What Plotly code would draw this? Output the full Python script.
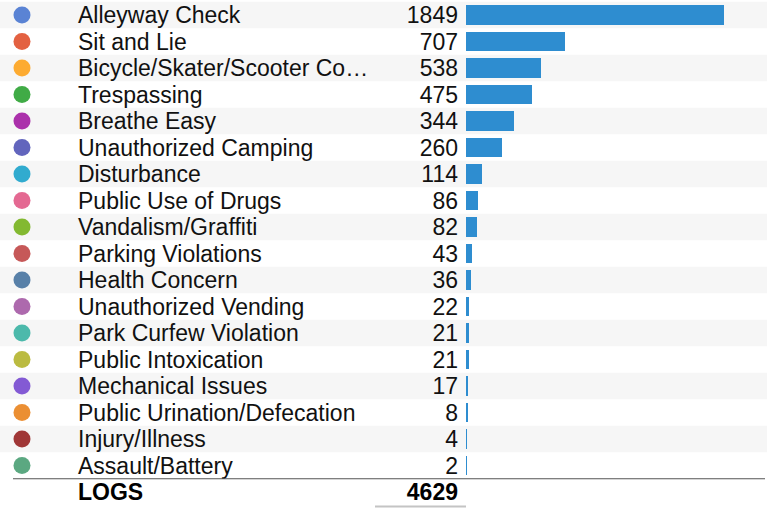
import plotly.graph_objects as go

categories = [
    "Alleyway Check", "Sit and Lie", "Bicycle/Skater/Scooter Co\u2026", "Trespassing",
    "Breathe Easy", "Unauthorized Camping", "Disturbance", "Public Use of Drugs",
    "Vandalism/Graffiti", "Parking Violations", "Health Concern", "Unauthorized Vending",
    "Park Curfew Violation", "Public Intoxication", "Mechanical Issues",
    "Public Urination/Defecation", "Injury/Illness", "Assault/Battery",
]
counts = [1849, 707, 538, 475, 344, 260, 114, 86, 82, 43, 36, 22, 21, 21, 17, 8, 4, 2]
dot_colors = [
    "#3366cc", "#dc3912", "#ff9900", "#109618", "#990099", "#3b3eac", "#0099c6",
    "#dd4477", "#66aa00", "#b82e2e", "#316395", "#994499", "#22aa99", "#aaaa11",
    "#6633cc", "#e67300", "#8b0707", "#329262",
]
total_label = "LOGS"
total_value = sum(counts)

W, H = 767, 508
rows = list(range(len(categories)))
total_row = len(categories)

# layout geometry (pixels)
row_h = 26.5
first_row_px = 15
bar_left = 466
bar_full = 258  # pixel length of the largest bar
value_right = 458
label_left = 78
dot_x = 22
text_shift = 2.5 / row_h  # nudge text down so glyphs sit centred on the row

font = "Liberation Sans, Arial, sans-serif"
fsize = 23

fig = go.Figure()

# bars
fig.add_trace(go.Bar(
    x=counts, y=rows, orientation="h",
    marker=dict(color="#2e8dd0", line=dict(width=0)),
    width=0.72, xaxis="x", yaxis="y", hoverinfo="x+y",
))

# colored dots
fig.add_trace(go.Scatter(
    x=[dot_x] * len(rows), y=rows, mode="markers",
    marker=dict(size=17, color=dot_colors, opacity=0.8, line=dict(width=0)),
    xaxis="x2", yaxis="y", hoverinfo="skip",
))

text_rows = [r + text_shift for r in rows]

# category names
fig.add_trace(go.Scatter(
    x=[label_left] * len(rows), y=text_rows, mode="text", text=categories,
    textposition="middle right",
    textfont=dict(family=font, size=fsize, color="#111111"),
    xaxis="x2", yaxis="y", hoverinfo="skip",
))

# values
fig.add_trace(go.Scatter(
    x=[value_right] * len(rows), y=text_rows, mode="text", text=[str(c) for c in counts],
    textposition="middle left",
    textfont=dict(family=font, size=fsize, color="#111111"),
    xaxis="x2", yaxis="y", hoverinfo="skip",
))

# total row
fig.add_trace(go.Scatter(
    x=[label_left, value_right], y=[total_row + text_shift] * 2, mode="text",
    text=[f"<b>{total_label}</b>", f"<b>{total_value}</b>"],
    textposition=["middle right", "middle left"],
    textfont=dict(family=font, size=fsize, color="#000000"),
    xaxis="x2", yaxis="y", hoverinfo="skip",
))

# alternating row stripes
shapes = []
for i in rows:
    if i % 2 == 0:
        shapes.append(dict(
            type="rect", xref="paper", yref="y", x0=0, x1=1, y0=i - 0.5, y1=i + 0.5,
            fillcolor="#f6f6f6", line=dict(width=0), layer="below",
        ))
# separator above the total
shapes.append(dict(
    type="line", xref="x2", yref="y", x0=13, x1=765, y0=total_row - 0.5, y1=total_row - 0.5,
    line=dict(color="#555555", width=1),
))
shapes.append(dict(
    type="line", xref="x2", yref="y", x0=375, x1=466,
    y0=(H - 1.5 - first_row_px) / row_h, y1=(H - 1.5 - first_row_px) / row_h,
    line=dict(color="#c4c4c4", width=2),
))

y_top = -first_row_px / row_h
y_bottom = (H - first_row_px) / row_h

fig.update_layout(
    width=W, height=H,
    margin=dict(l=0, r=0, t=0, b=0),
    paper_bgcolor="white", plot_bgcolor="rgba(0,0,0,0)",
    showlegend=False,
    shapes=shapes,
    xaxis=dict(domain=[bar_left / W, 1], range=[0, max(counts) * (W - bar_left) / bar_full],
               visible=False, fixedrange=True),
    xaxis2=dict(domain=[0, 1], range=[0, W], visible=False, fixedrange=True, anchor="y"),
    yaxis=dict(range=[y_bottom, y_top], visible=False, fixedrange=True),
    bargap=0,
)

fig.write_html("out.html")
